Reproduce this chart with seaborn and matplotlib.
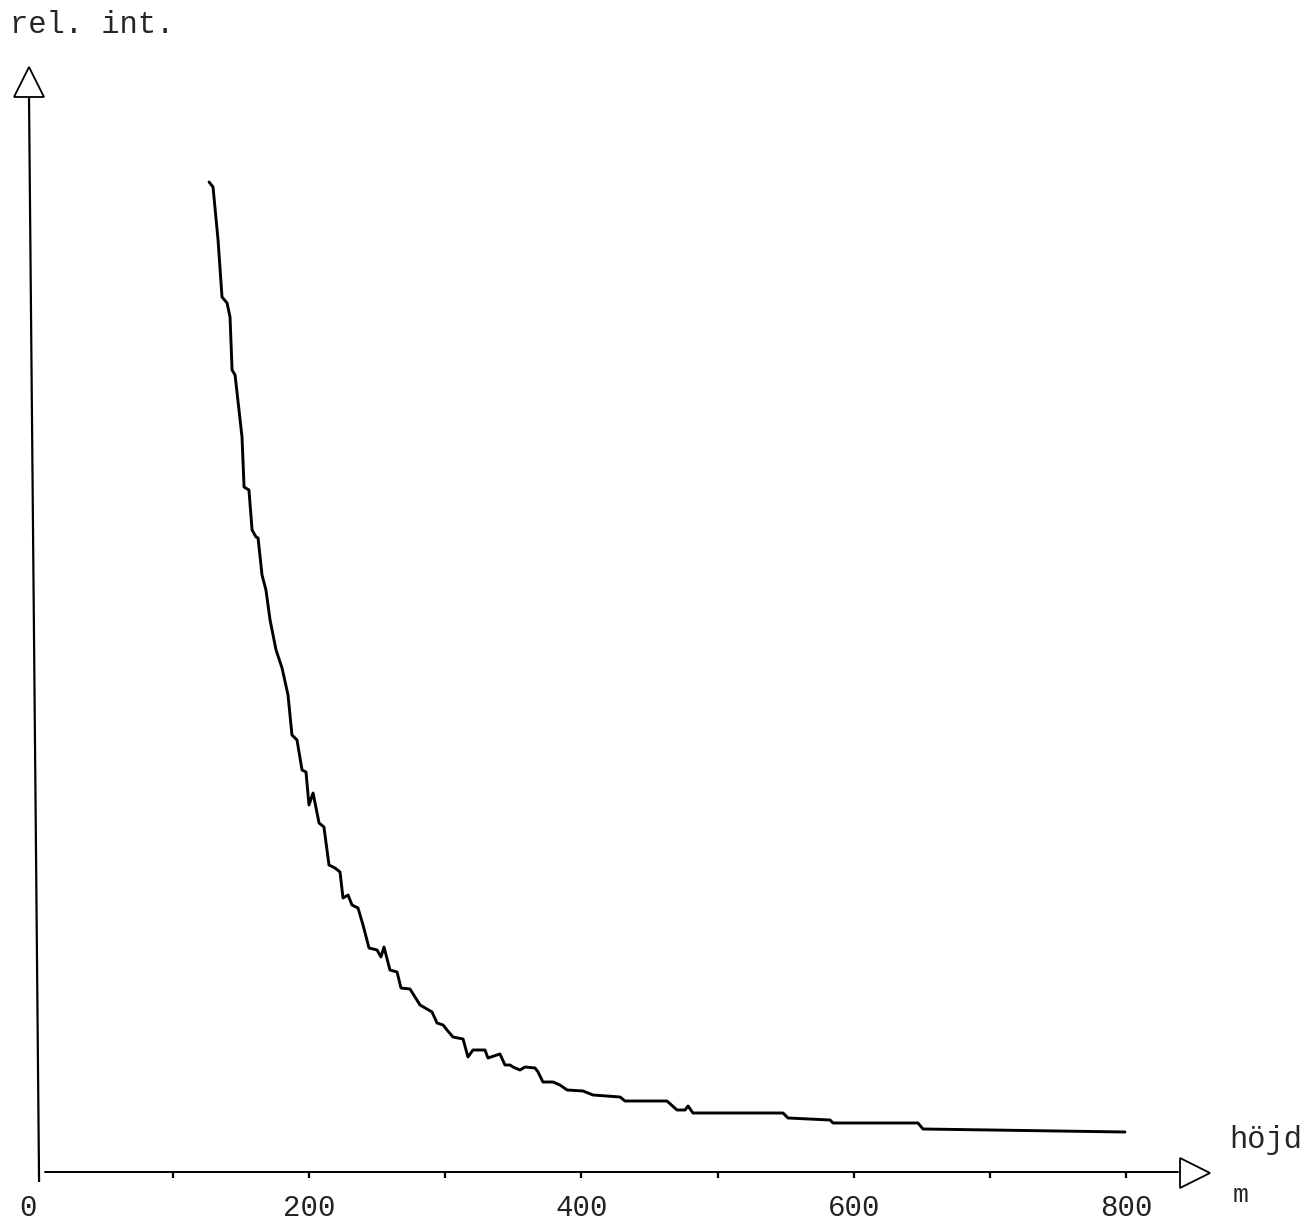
import matplotlib
matplotlib.use("Agg")
import matplotlib.pyplot as plt
import seaborn as sns
import pandas as pd

# ---- data (height in m, relative intensity in arbitrary units) ----
hojd_m = [126.4, 129.3, 133.0, 135.9, 139.6, 141.8, 143.3, 145.5, 146.9, 150.6,
          152.1, 155.7, 158.0, 160.9, 162.4, 165.3, 168.2, 171.2, 175.6, 180.0,
          184.4, 187.3, 191.0, 194.7, 197.6, 199.8, 202.8, 207.2, 210.8, 214.5,
          218.9, 222.6, 224.8, 228.5, 231.4, 235.8, 239.5, 243.9, 249.8, 252.7,
          254.9, 259.3, 264.5, 267.4, 274.0, 281.4, 290.2, 293.9, 298.3, 301.2,
          305.6, 313.0, 316.6, 320.3, 329.1, 331.3, 340.1, 343.8, 347.5, 349.7,
          354.8, 358.5, 365.9, 368.1, 371.7, 379.1, 384.2, 389.4, 401.1, 408.5,
          428.3, 432.0, 462.8, 470.2, 476.1, 478.3, 481.9, 548.1, 551.7, 582.6,
          584.8, 647.2, 650.9, 799.3]
rel_int = [99.0, 98.5, 93.2, 87.5, 86.9, 85.5, 80.2, 79.7, 78.0, 73.5,
           68.5, 68.2, 64.2, 63.5, 63.4, 59.7, 58.2, 55.2, 52.2, 50.4,
           47.7, 43.7, 43.2, 40.2, 40.0, 36.7, 37.9, 34.9, 34.5, 30.7,
           30.4, 30.0, 27.4, 27.7, 26.7, 26.4, 24.7, 22.4, 22.2, 21.5,
           22.5, 20.2, 20.0, 18.4, 18.3, 16.7, 16.0, 14.9, 14.7, 14.2,
           13.5, 13.3, 11.5, 12.2, 12.2, 11.4, 11.8, 10.7, 10.7, 10.5,
           10.2, 10.5, 10.4, 10.0, 9.0, 9.0, 8.7, 8.2, 8.1, 7.7,
           7.5, 7.1, 7.1, 6.2, 6.2, 6.6, 5.9, 5.9, 5.4, 5.2,
           4.9, 4.9, 4.3, 4.0]

x_ticks = [100, 200, 300, 400, 500, 600, 700, 800]
x_tick_labels = ["0", "200", "400", "600", "800"]
x_tick_label_pos = [0, 200, 400, 600, 800]
y_label = "rel. int."
x_label = "höjd"
x_unit = "m"

df = pd.DataFrame({"hojd": hojd_m, "rel": rel_int})

sns.set_style("white")
plt.rcParams["font.family"] = ["Liberation Mono", "DejaVu Sans Mono"]

fig = plt.figure(figsize=(13.12, 12.28), dpi=100)
ax = fig.add_axes([0, 0, 1, 1])

# axes lines (hand-drawn style)
ax.plot([-5.9, 1.5], [107.7, -1.0], color="black", lw=1.6, solid_capstyle="butt")
ax.plot([5.5, 838], [0.0, 0.0], color="black", lw=1.4)
# arrow heads (open triangles)
ax.plot([-5.9], [109.0], marker="^", markersize=22, markerfacecolor="white",
        markeredgecolor="black", markeredgewidth=1.3, linestyle="none")
ax.plot([851.0], [-0.1], marker=">", markersize=22, markerfacecolor="white",
        markeredgecolor="black", markeredgewidth=1.3, linestyle="none")
# tick marks
ax.vlines(x_ticks, -0.6, 0.0, color="black", lw=1.6)

# data curve
sns.lineplot(data=df, x="hojd", y="rel", ax=ax, color="black", linewidth=2.1,
             estimator=None, sort=False)
ax.set_xlim(-27.2, 936.7)
ax.set_ylim(-5.6, 117.2)
ax.axis("off")

# texts
for pos, lab in zip(x_tick_label_pos, x_tick_labels):
    xx = pos if pos > 0 else -6.5
    ax.text(xx, -3.6, lab, ha="center", va="center", fontsize=21,
            color="#222222")
ax.text(-20.0, 114.7, y_label, ha="left", va="center", fontsize=22)
ax.text(903, 3.2, x_label, ha="center", va="center", fontsize=22)
ax.text(884, -2.3, x_unit, ha="center", va="center", fontsize=19)

fig.savefig("out.png", dpi=100)
